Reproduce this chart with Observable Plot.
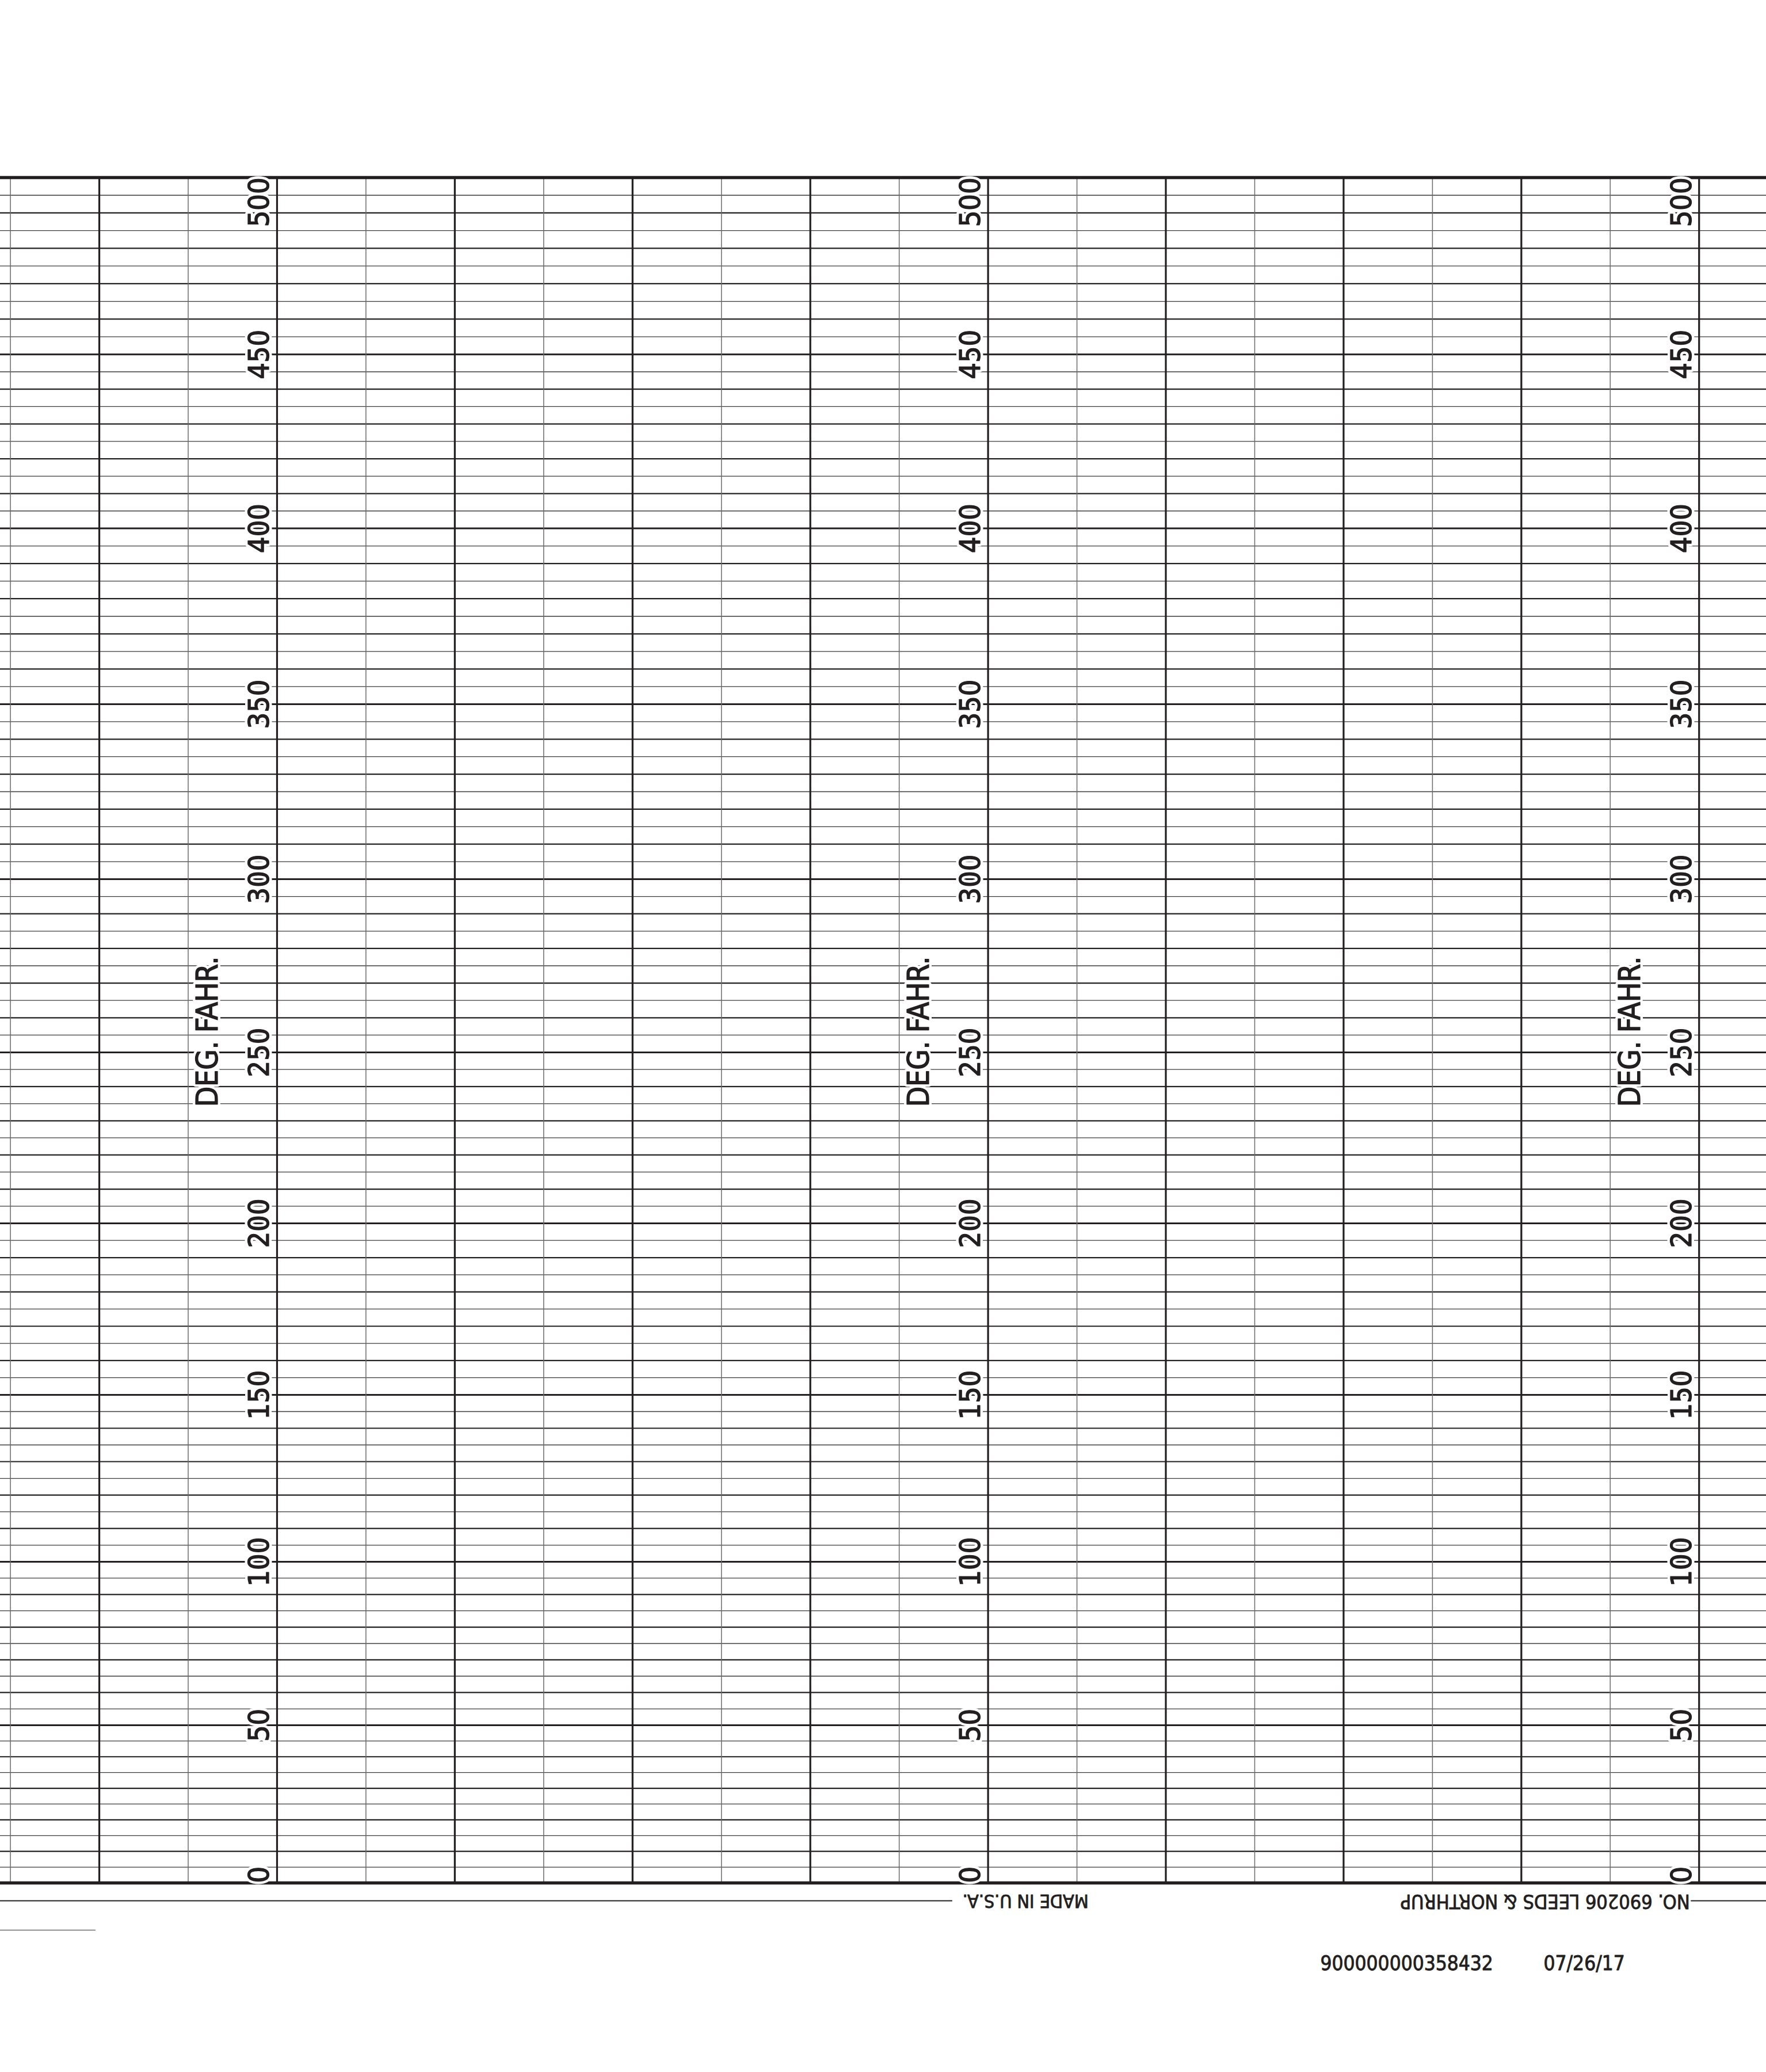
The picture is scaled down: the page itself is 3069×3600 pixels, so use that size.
<!DOCTYPE html>
<html>
<head>
<meta charset="utf-8">
<script src="https://cdn.jsdelivr.net/npm/d3@7"></script>
<script src="https://cdn.jsdelivr.net/npm/@observablehq/plot@0.6"></script>
<style>
  html, body { margin: 0; padding: 0; background: #ffffff; overflow: hidden; }
  #chart svg { display: block; }
</style>
</head>
<body>
<div id="chart"></div>
<script>
// ---- chart content ----
const tickValues = [0, 50, 100, 150, 200, 250, 300, 350, 400, 450, 500];
const tickLabels = ["0", "50", "100", "150", "200", "250", "300", "350", "400", "450", "500"];
const majorColumns = [0, 1, 2, 3, 4, 5, 6, 7, 8, 9];
const minorColumns = [-0.5, 0.5, 1.5, 2.5, 3.5, 4.5, 5.5, 6.5, 7.5, 8.5];
const labelColumns = [1, 5, 9];
const unitLabel = "DEG. FAHR.";
const footerLeft = "MADE IN U.S.A.";
const footerRight = "NO. 690206 LEEDS & NORTHRUP";
const serialText = "900000000358432";
const dateText = "07/26/17";

// ---- derived grid structure ----
const fineLines = d3.range(5, 500, 10);                          // every odd 5
const tenLines = d3.range(10, 500, 10).filter(v => v % 50 !== 0); // every 10
const fiftyLines = tickValues.filter(v => v > 0 && v < 500);
const borderLines = [0, 500];

const labelRows = labelColumns.flatMap(c =>
  tickValues.map((v, i) => ({col: c, v, label: tickLabels[i]}))
);
const midRows = labelRows.filter(d => d.v > 0 && d.v < 500);
const bottomRows = labelRows.filter(d => d.v === 0);
const topRows = labelRows.filter(d => d.v === 500);

// non-linear printed scale of the recorder paper (fraction of chart height at each 50°)
const paperScale = d3.scaleLinear()
  .domain(tickValues)
  .range([0, 0.0925, 0.1883, 0.2862, 0.3868, 0.4870, 0.5886, 0.6912, 0.7943, 0.8963, 1]);

const ink = "#231f20";
const gray = "#6b6b6b";
const font = "'DejaVu Sans Condensed', 'DejaVu Sans', sans-serif";
const xLeft = -0.557, xRight = 9.378;

const labelBase = {
  x: "col", y: "v", text: "label", rotate: -90, lineAnchor: "bottom",
  dx: -14, fontSize: 50, fontFamily: font, fill: ink
};
const halo = {stroke: "white", strokeWidth: 10, paintOrder: "stroke"};
const heavy = {stroke: ink, strokeWidth: 1.3};

const unitBase = {
  x: d => d, y: () => 256, text: () => unitLabel, rotate: -90,
  textAnchor: "middle", lineAnchor: "bottom", dx: -103,
  fontSize: 51, fontFamily: font, fill: ink
};

const footStyle = {fontFamily: font, fill: ink, stroke: ink, strokeWidth: 0.9};

const chart = Plot.plot({
  width: 3069,
  height: 3600,
  margin: 0,
  style: {background: "#ffffff"},
  x: {domain: [xLeft, xRight], range: [0, 3069], axis: null},
  y: {transform: v => paperScale(v), domain: [0, 1], range: [3271, 308], axis: null},
  marks: [
    Plot.ruleY(fineLines, {stroke: "#3a3a3a", strokeWidth: 1.3}),
    Plot.ruleY(tenLines, {stroke: ink, strokeWidth: 2.2}),
    Plot.ruleY(fiftyLines, {stroke: ink, strokeWidth: 3}),
    Plot.ruleX(minorColumns, {y1: 0, y2: 500, stroke: gray, strokeWidth: 1.5}),
    Plot.ruleX(majorColumns, {y1: 0, y2: 500, stroke: ink, strokeWidth: 3.2}),
    Plot.ruleY(borderLines, {stroke: ink, strokeWidth: 5.5}),
    // scale labels: white knock-out first, then the lettering
    Plot.text(midRows, {...labelBase, ...halo, textAnchor: "middle"}),
    Plot.text(bottomRows, {...labelBase, ...halo, textAnchor: "start"}),
    Plot.text(topRows, {...labelBase, ...halo, textAnchor: "end"}),
    Plot.text(labelColumns, {...unitBase, ...halo}),
    Plot.text(midRows, {...labelBase, ...heavy, textAnchor: "middle"}),
    Plot.text(bottomRows, {...labelBase, ...heavy, textAnchor: "start"}),
    Plot.text(topRows, {...labelBase, ...heavy, textAnchor: "end"}),
    Plot.text(labelColumns, {...unitBase, ...heavy}),
    // footer line and printed texts
    Plot.ruleY([0], {x1: () => xLeft, x2: () => 4.80, dy: 31, stroke: ink, strokeWidth: 2}),
    Plot.ruleY([0], {x1: () => 8.955, x2: () => xRight, dy: 31, stroke: ink, strokeWidth: 2}),
    Plot.text([footerLeft], {
      ...footStyle, x: () => 5.565, y: () => 0, dy: 31, text: d => d, rotate: 180,
      textAnchor: "start", fontSize: 32
    }),
    Plot.text([footerRight], {
      ...footStyle, x: () => 8.948, y: () => 0, dy: 31, text: d => d, rotate: 180,
      textAnchor: "start", fontSize: 34
    }),
    Plot.ruleY([0], {x1: () => xLeft, x2: () => -0.02, dy: 82, stroke: gray, strokeWidth: 1.3}),
    Plot.text([serialText], {
      ...footStyle, x: () => 6.869, y: () => 0, dy: 140, text: d => d,
      textAnchor: "start", fontSize: 35
    }),
    Plot.text([dateText], {
      ...footStyle, x: () => 8.125, y: () => 0, dy: 140, text: d => d,
      textAnchor: "start", fontSize: 35
    })
  ]
});

document.getElementById("chart").appendChild(chart);
</script>
</body>
</html>
